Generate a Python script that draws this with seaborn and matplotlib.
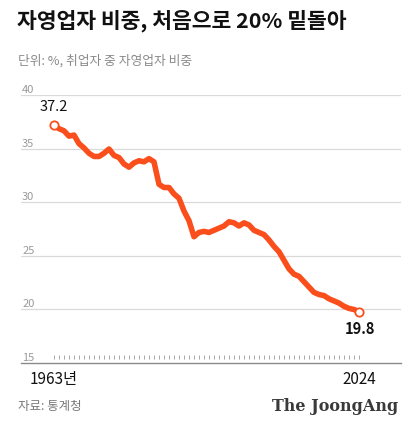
import pandas as pd
import seaborn as sns
import matplotlib.pyplot as plt
import matplotlib.transforms as mtransforms

# 취업자 중 자영업자 비중 (%), 1963~2024
years = list(range(1963, 2025))
share = [37.2, 36.9, 36.7, 36.2, 36.3, 35.5, 35.1, 34.6, 34.3, 34.3,
         34.6, 35.0, 34.4, 34.2, 33.6, 33.3, 33.7, 33.9, 33.8, 34.1,
         33.8, 31.7, 31.4, 31.4, 30.8, 30.4, 29.2, 28.3, 26.8, 27.2,
         27.3, 27.2, 27.4, 27.6, 27.8, 28.2, 28.1, 27.8, 28.1, 27.9,
         27.4, 27.2, 27.0, 26.5, 25.9, 25.4, 24.6, 23.8, 23.3, 23.1,
         22.6, 22.1, 21.6, 21.4, 21.3, 21.0, 20.8, 20.6, 20.3, 20.1,
         20.0, 19.8]
yticks = [15, 20, 25, 30, 35, 40]

TITLE = "자영업자 비중, 처음으로 20% 밑돌아"
SUBTITLE = "단위: %, 취업자 중 자영업자 비중"
SOURCE = "자료: 통계청"
LOGO = "The JoongAng"

ORANGE = "#fa4f1c"

df = pd.DataFrame({"year": years, "share": share})

sns.set_style("white")
plt.rcParams['font.family'] = ['Noto Sans CJK KR', 'DejaVu Sans']

fig = plt.figure(figsize=(4.10, 4.28), dpi=100)
ax = fig.add_axes([0.0512, 0.1519, 0.9268, 0.625])

for v in yticks[1:]:
    ax.axhline(v, color="#d9d9d9", lw=0.9, zorder=0)

sns.lineplot(data=df, x="year", y="share", color=ORANGE, lw=4.0,
             ax=ax, zorder=3, solid_capstyle="round", solid_joinstyle="round")

ends = df.iloc[[0, -1]]
ax.scatter(ends.year, ends.share, s=36, facecolor="white",
           edgecolor=ORANGE, linewidth=1.3, zorder=4)

ax.annotate(f"{share[0]:.1f}", (years[0], share[0]), xytext=(0, 8),
            textcoords="offset points", ha="center", va="bottom",
            fontsize=10.5, color="#111")
ax.annotate(f"{share[-1]:.1f}", (years[-1], share[-1]), xytext=(1, -7),
            textcoords="offset points", ha="center", va="top",
            fontsize=10.5, fontweight="bold", color="#111")

ax.set_xlim(1956.4, 2032.4)
ax.set_ylim(15, 40)
ax.set_xticks([])
ax.set_yticks([])
ax.set_xlabel("")
ax.set_ylabel("")
for s in ["top", "right", "left"]:
    ax.spines[s].set_visible(False)
ax.spines["bottom"].set_color("#8a8a8a")
ax.spines["bottom"].set_linewidth(1.0)

# y labels sit just above their gridlines
ytr = mtransforms.blended_transform_factory(ax.transAxes, ax.transData)
for v in yticks:
    ax.text(0.003, v, str(v), transform=ytr, ha="left", va="bottom",
            fontsize=8, color="#9a9a9a", clip_on=False)

# small year ticks
ax.vlines(years, 0.014, 0.03, transform=ax.get_xaxis_transform(),
          color="#9a9a9a", lw=0.6)

xtr = ax.get_xaxis_transform()
ax.text(years[0], -0.03, f"{years[0]}년", transform=xtr, ha="center",
        va="top", fontsize=11, color="#111")
ax.text(years[-1], -0.03, f"{years[-1]}", transform=xtr, ha="center",
        va="top", fontsize=11, color="#111")

fig.text(0.042, 0.952, TITLE, fontsize=15.5, fontweight="heavy",
         color="#111", va="center", ha="left")
fig.text(0.044, 0.857, SUBTITLE, fontsize=9.2, color="#8a8a8a",
         va="center", ha="left")
fig.text(0.044, 0.051, SOURCE, fontsize=9, color="#7a7a7a",
         va="center", ha="left")
fig.text(0.972, 0.051, LOGO, fontsize=11.5, fontweight="bold",
         family="DejaVu Serif", color="#3a3a3a", va="center", ha="right")

plt.savefig("out.png", dpi=100)
